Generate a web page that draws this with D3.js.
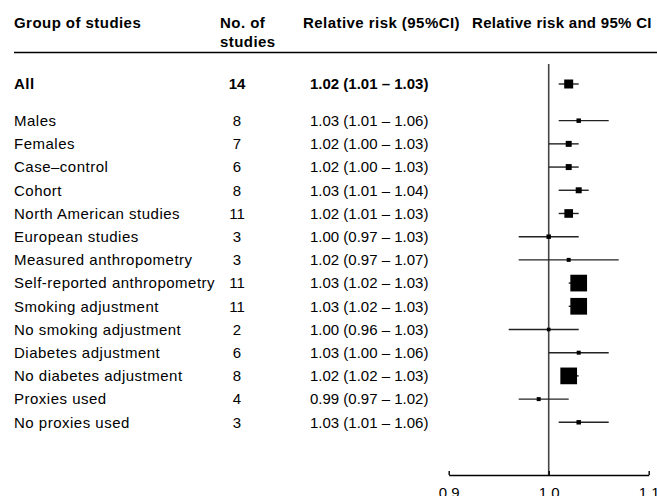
<!DOCTYPE html>
<html><head><meta charset="utf-8">
<script src="https://cdn.jsdelivr.net/npm/d3@7"></script>
<style>
body{margin:0;background:#fff;}
svg{display:block;font-family:"Liberation Sans",Arial,Helvetica,sans-serif;}
</style></head>
<body><svg id="c" width="657" height="496"></svg>
<script>
const groups = ["All","Males","Females","Case\u2013control","Cohort","North American studies","European studies","Measured anthropometry","Self-reported anthropometry","Smoking adjustment","No smoking adjustment","Diabetes adjustment","No diabetes adjustment","Proxies used","No proxies used"];
const nStudies = [14,8,7,6,8,11,3,3,11,11,2,6,8,4,3];
const rr = [1.02,1.03,1.02,1.02,1.03,1.02,1.00,1.02,1.03,1.03,1.00,1.03,1.02,0.99,1.03];
const lower = [1.01,1.01,1.00,1.00,1.01,1.01,0.97,0.97,1.02,1.02,0.96,1.00,1.02,0.97,1.01];
const upper = [1.03,1.06,1.03,1.03,1.04,1.03,1.03,1.07,1.03,1.03,1.03,1.06,1.03,1.02,1.06];
const weights = [81,20,36,36,36,75,20,16,280,280,13,16,280,16,20];
const xTicks = [0.9,1.0,1.1];
const headers = ["Group of studies","No. of","studies","Relative risk (95%CI)","Relative risk and 95% CI"];

const svg = d3.select("#c");
const fs = 15;
const ls = "0.5px";
const x = d3.scaleLinear().domain([0.9,1.1]).range([448.7,648.7]);
const slot = i => i===0 ? 0 : i + 0.58;
const y = d3.scaleLinear().domain([0,14.58]).range([84,422.3]);
const size = d3.scaleSqrt().domain([0,280]).range([0,16.7]);
const fmt = d3.format(".2f");

// headers
const hg = svg.append("g").attr("font-weight","bold").attr("font-size",fs).attr("fill","#000").attr("letter-spacing","0.45px");
hg.append("text").attr("x",14).attr("y",28).text(headers[0]);
hg.append("text").attr("x",220).attr("y",28).text(headers[1]);
hg.append("text").attr("x",220).attr("y",47).text(headers[2]);
hg.append("text").attr("x",303).attr("y",28).text(headers[3]);
hg.append("text").attr("x",472).attr("y",28).attr("letter-spacing","0.3px").text(headers[4]);
svg.append("line").attr("x1",14).attr("x2",657).attr("y1",52.5).attr("y2",52.5).attr("stroke","#000").attr("stroke-width",1.6);

// rows text
const rows = svg.append("g").attr("font-size",fs).attr("fill","#000");
groups.forEach((g,i)=>{
  const yy = y(slot(i)) + 5.3;
  const w = i===0 ? "bold" : "normal";
  rows.append("text").attr("x",14).attr("y",yy).attr("font-weight",w).attr("letter-spacing",ls).text(g);
  rows.append("text").attr("x",237).attr("y",yy).attr("text-anchor","middle").attr("font-weight",w).text(nStudies[i]);
  rows.append("text").attr("x",310).attr("y",yy).attr("font-weight",w).text(`${fmt(rr[i])} (${fmt(lower[i])} \u2013 ${fmt(upper[i])})`);
});

// reference line
svg.append("line").attr("x1",x(1)).attr("x2",x(1)).attr("y1",64).attr("y2",475).attr("stroke","#444").attr("stroke-width",1.6);

// CIs and boxes
const marks = svg.append("g");
groups.forEach((g,i)=>{
  const yy = y(slot(i));
  marks.append("line").attr("x1",x(lower[i])).attr("x2",x(upper[i])).attr("y1",yy).attr("y2",yy).attr("stroke","#222").attr("stroke-width",1.4);
  const s = size(weights[i]);
  marks.append("rect").attr("x",x(rr[i])-s/2).attr("y",yy-s/2).attr("width",s).attr("height",s).attr("fill","#000");
});

// axis
const axis = d3.axisBottom(x).tickValues(xTicks).tickFormat(d3.format(".1f")).tickSizeInner(-4).tickSizeOuter(0).tickPadding(12);
const ag = svg.append("g").attr("transform","translate(0,475)").call(axis);
ag.select(".domain").attr("stroke","#000").attr("stroke-width",1.4);
ag.selectAll(".tick line").attr("stroke","#000").attr("stroke-width",1.4);
ag.selectAll(".tick text").attr("font-size",fs).attr("font-family","Liberation Sans, Arial, sans-serif").attr("fill","#000");
</script></body></html>
